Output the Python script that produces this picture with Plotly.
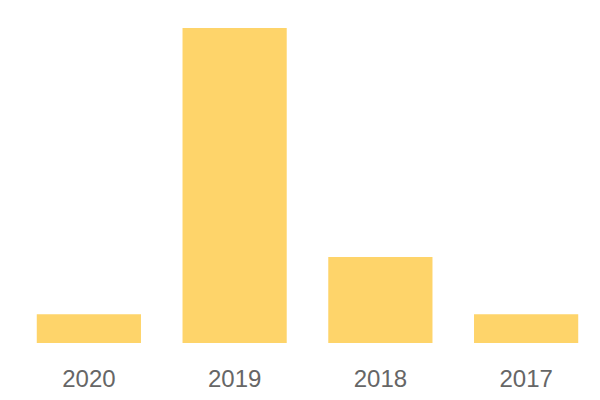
import plotly.graph_objects as go

categories = ["2020", "2019", "2018", "2017"]
values = [1, 11, 3, 1]

fig = go.Figure(go.Bar(
    x=categories, y=values,
    marker=dict(color="#FED46A", line=dict(width=0)),
    hoverinfo="skip",
))
fig.update_layout(
    width=600, height=400,
    margin=dict(l=8, r=9, t=20, b=65),
    paper_bgcolor="white", plot_bgcolor="white",
    bargap=0.285,
    showlegend=False,
    font=dict(family="Liberation Sans, Arial, sans-serif", size=24, color="#666666"),
    xaxis=dict(showgrid=False, showline=False, zeroline=False, ticks="", ticklabelstandoff=19),
    yaxis=dict(visible=False, range=[0, 11], showgrid=False, zeroline=False),
)
fig.write_html("out.html")
